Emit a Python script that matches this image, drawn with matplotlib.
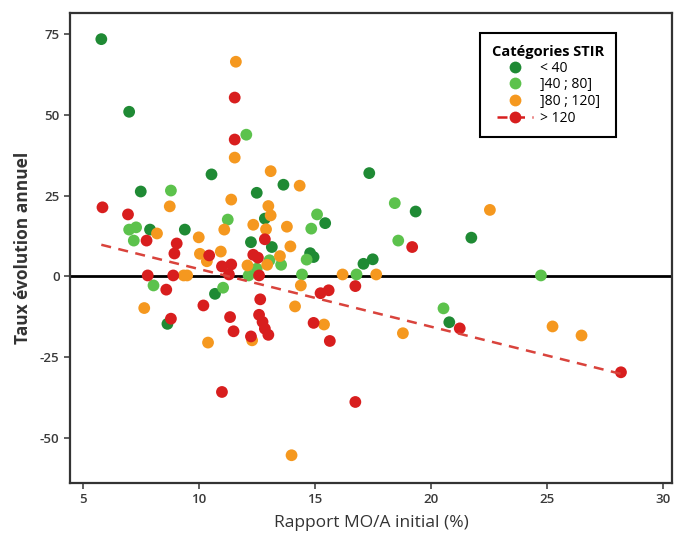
import matplotlib
matplotlib.use("Agg")
import matplotlib.pyplot as plt
from matplotlib.lines import Line2D

plt.rcParams['font.family'] = ['Open Sans', 'DejaVu Sans']
plt.rcParams['axes.unicode_minus'] = False

# STIR categories: (MO/A ratio %, annual change)
dark_x = [5.8, 7.0, 7.5, 7.9, 9.4, 10.55, 12.5, 13.65, 12.85, 15.45, 17.35, 19.35, 21.75,
          12.25, 13.15, 14.8, 14.95, 17.1, 17.5, 8.65, 10.7, 20.8]
dark_y = [73.5, 51.0, 26.3, 14.5, 14.5, 31.6, 25.9, 28.4, 17.9, 16.5, 32.0, 20.1, 12.0,
          10.6, 9.1, 7.2, 6.0, 3.9, 5.3, -14.7, -5.4, -14.2]

light_x = [8.8, 7.0, 7.3, 7.2, 11.25, 12.05, 15.1, 14.85, 18.45, 18.6, 13.05, 13.55, 14.65,
           14.45, 16.8, 12.15, 12.5, 24.75, 8.05, 11.05, 20.55]
light_y = [26.6, 14.5, 15.2, 11.1, 17.6, 43.9, 19.2, 14.8, 22.7, 11.1, 5.0, 3.6, 5.2,
           0.6, 0.6, 0.3, 2.4, 0.3, -2.8, -3.5, -9.9]

orange_x = [11.6, 11.55, 8.75, 11.4, 8.2, 11.1, 10.0, 10.05, 10.35, 10.95, 9.35, 9.5,
            13.1, 14.35, 13.0, 13.1, 12.35, 12.9, 13.8, 13.95, 13.5, 12.95, 12.1, 16.2,
            17.65, 22.55, 7.65, 10.4, 12.3, 14.4, 14.15, 15.4, 18.8, 14.0, 25.25, 26.5]
orange_y = [66.5, 36.8, 21.7, 23.8, 13.3, 14.5, 12.1, 7.0, 4.7, 7.7, 0.3, 0.3,
            32.6, 28.1, 21.8, 18.9, 16.0, 14.6, 15.4, 9.3, 6.3, 3.6, 3.4, 0.6,
            0.6, 20.6, -9.8, -20.5, -19.8, -2.8, -9.3, -14.9, -17.6, -55.4, -15.5, -18.3]

red_x = [11.55, 11.55, 5.85, 6.95, 7.75, 9.05, 8.95, 10.45, 11.0, 11.4, 7.8, 8.9, 11.3,
         12.85, 12.35, 12.55, 12.6, 19.2, 16.75, 15.25, 15.6, 8.6, 8.8, 10.2, 11.35, 11.5,
         11.0, 12.65, 12.6, 12.75, 12.85, 13.0, 12.25, 14.95, 15.65, 16.75, 21.25, 28.2]
red_y = [55.4, 42.4, 21.4, 19.2, 11.1, 10.2, 7.1, 6.5, 3.1, 3.7, 0.3, 0.3, 0.6,
         11.5, 6.7, 5.8, 0.3, 9.1, -3.0, -5.2, -4.3, -4.1, -13.1, -9.0, -12.6, -17.0,
         -35.8, -7.1, -11.9, -14.1, -16.2, -18.1, -18.6, -14.4, -20.0, -38.9, -16.1, -29.7]

# trend line end points (> 120 category)
trend_x = [5.8, 28.2]
trend_y = [9.8, -30.2]

labels = ["< 40", "]40 ; 80]", "]80 ; 120]", "> 120"]
colors = ["#1f8a34", "#5cc24c", "#f5981f", "#d81e1e"]

fig = plt.figure(figsize=(6.77, 5.34), dpi=100)
ax = fig.add_axes([70 / 677, 1 - 483 / 534, 602 / 677, 470 / 534])

ax.axhline(0, color="black", lw=2, zorder=1)
ax.plot(trend_x, trend_y, ls=(0, (4, 3)), color="#d9433c", lw=1.8, zorder=4)

ms = 72
for xs, ys, c in zip([dark_x, light_x, orange_x, red_x],
                     [dark_y, light_y, orange_y, red_y], colors):
    ax.scatter(xs, ys, s=ms, color=c, edgecolor="none", zorder=3)

ax.set_xlim(4.45, 30.4)
ax.set_ylim(-64, 81.6)
ax.set_xticks([5, 10, 15, 20, 25, 30])
ax.set_yticks([-50, -25, 0, 25, 50, 75])
ax.tick_params(labelsize=9.5, colors="#444444", length=4, width=1.2, labelcolor="#3a3a3a")
for lab in ax.get_xticklabels() + ax.get_yticklabels():
    lab.set_fontweight("semibold")
for sp in ax.spines.values():
    sp.set_color("#333333")
    sp.set_linewidth(1.6)

ax.set_xlabel("Rapport MO/A initial (%)", fontsize=12.5, color="#333333", labelpad=6)
ax.set_ylabel("Taux évolution annuel", fontsize=12.5, fontweight="bold", color="#333333", labelpad=6)

handles = [Line2D([], [], ls="none", marker="o", ms=8.5, color=c, markeredgecolor="none")
           for c in colors[:3]]
handles.append(Line2D([], [], ls=(0, (4, 3)), lw=1.8, marker="o", ms=8.5, color=colors[3],
                      markeredgecolor="none"))
leg = ax.legend(handles, labels, title="Catégories STIR", loc="upper right",
                bbox_to_anchor=(0.907, 0.957), borderaxespad=0, fancybox=False,
                edgecolor="black", fontsize=10, handlelength=2.6, handletextpad=0.5,
                labelspacing=0.12, borderpad=0.85,
                title_fontproperties={"weight": "bold", "size": 10.5})
leg.get_frame().set_linewidth(1.5)
leg.get_frame().set_alpha(1)

fig.savefig("out.png", dpi=100)
